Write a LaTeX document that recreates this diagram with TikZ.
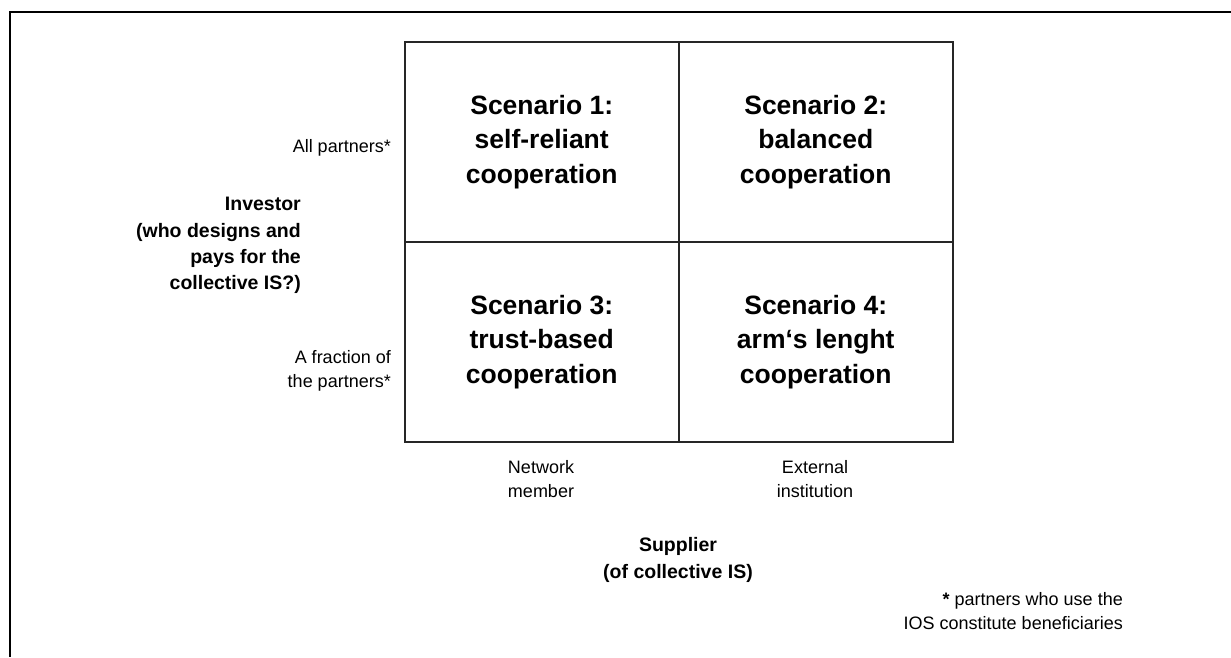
\documentclass[tikz,border=0pt]{standalone}
\usepackage{fontspec}
\setmainfont{Liberation Sans}
\begin{document}
\begin{tikzpicture}[x=1pt,y=-1pt,
  cell/.style={draw=black!85, line width=1.5pt, minimum width=274pt, minimum height=200pt,
    anchor=north west, inner sep=0pt, align=center,
    font=\fontsize{26.5}{34.5}\selectfont\bfseries},
  axislabel/.style={font=\fontsize{19.5}{26.3}\selectfont\bfseries, inner sep=0pt},
  small/.style={font=\fontsize{18}{24}\selectfont, inner sep=0pt},
  frame/.style={line width=2pt, black}]
\useasboundingbox (0,0) rectangle (1231,657);
% frame (top and left only)
\coordinate (ftl) at (10,12);
\coordinate (ftr) at (1231,12);
\coordinate (fbl) at (10,657);
\draw[frame] (ftr) -- (ftl) -- (fbl);
% matrix cells
\node[cell] (s1) at (404,41) {Scenario 1:\\self-reliant\\cooperation};
\node[cell] (s2) at (678,41) {Scenario 2:\\balanced\\cooperation};
\node[cell] (s3) at (404,241) {Scenario 3:\\trust-based\\cooperation};
\node[cell] (s4) at (678,241) {Scenario 4:\\arm‘s lenght\\cooperation};
% row labels
\node[small, anchor=east, align=right] (all) at (391,148) {All partners*};
\node[small, anchor=east, align=right] (frac) at (391,371) {A fraction of\\the partners*};
\node[axislabel, anchor=east, align=right] (inv) at (301,245.5)
  {Investor\\(who designs and\hspace*{5.4pt}\\pays for the\hspace*{5.4pt}\\collective IS?)};
% column labels
\node[small, align=center] (net) at (541,479.5) {Network\\member};
\node[small, align=center] (ext) at (815,479.5) {External\\institution};
\node[axislabel, align=center] (sup) at (678,560) {Supplier\\(of collective IS)};
% footnote
\node[small, anchor=east, align=right] (foot) at (1123,611.5)
  {{\bfseries *} partners who use the\\IOS constitute beneficiaries};
\end{tikzpicture}
\end{document}
